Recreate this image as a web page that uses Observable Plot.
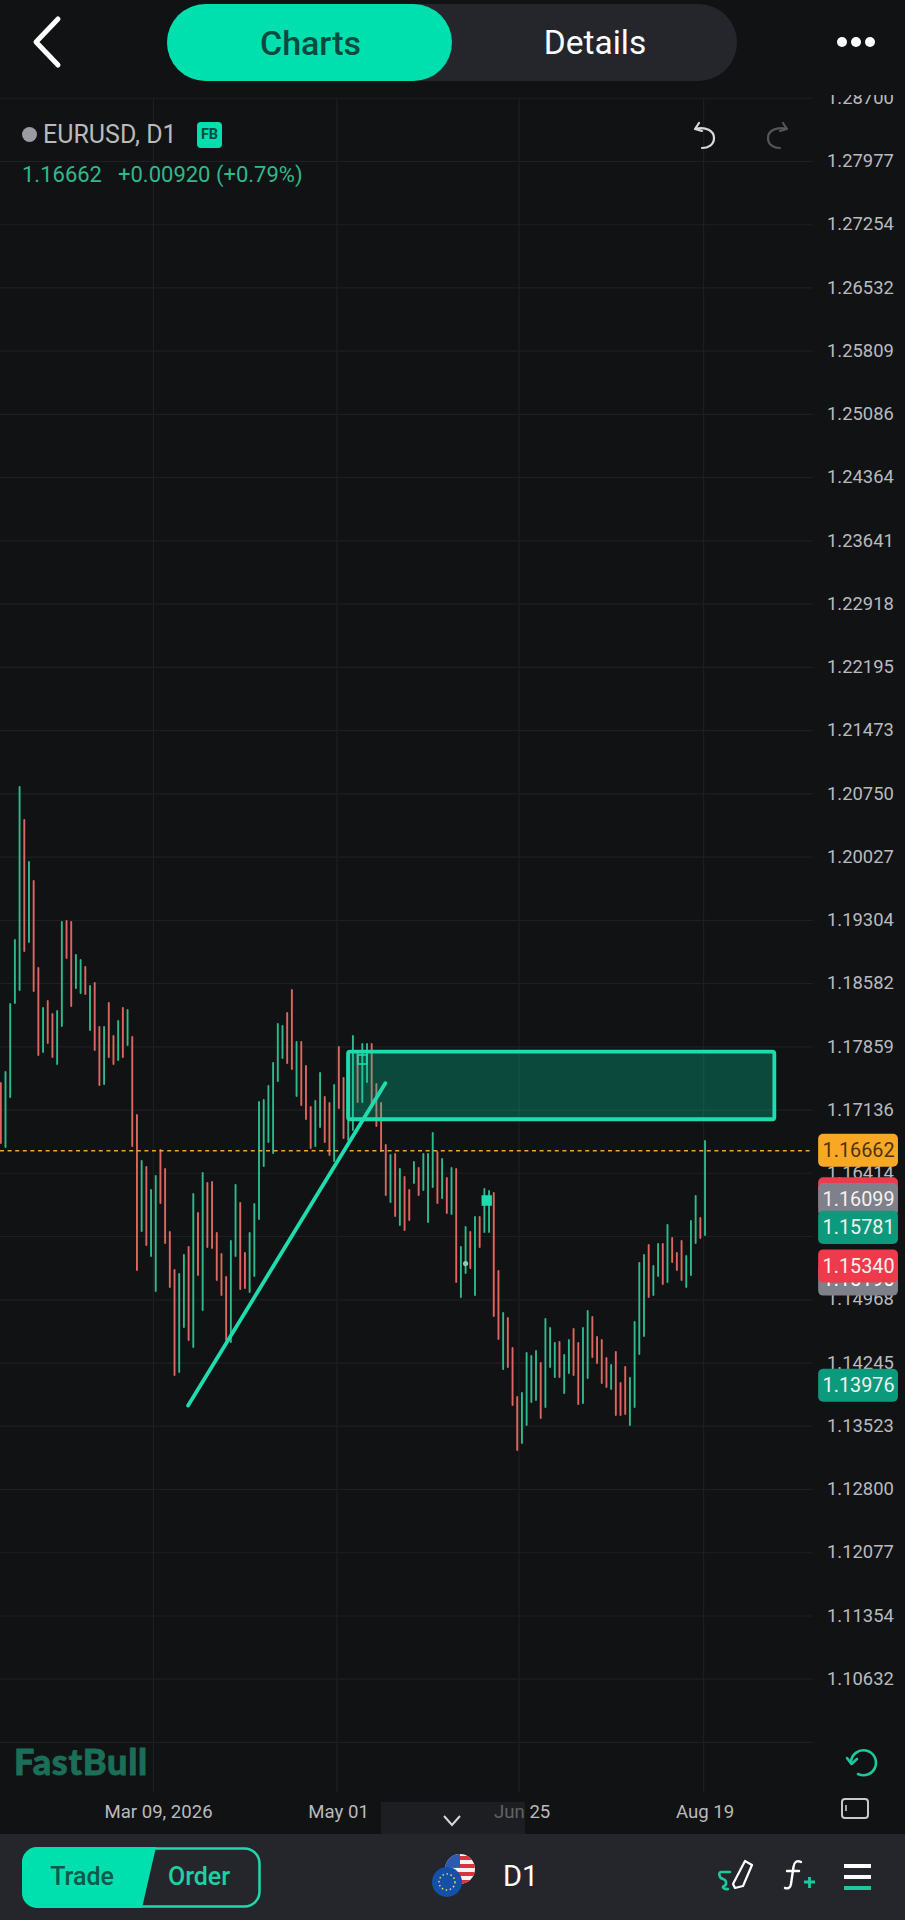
<!DOCTYPE html>
<html>
<head>
<meta charset="utf-8">
<script src="https://cdn.jsdelivr.net/npm/d3@7"></script>
<script src="https://cdn.jsdelivr.net/npm/@observablehq/plot@0.6"></script>
<style>
html,body{margin:0;padding:0;background:#111214;width:905px;height:1920px;overflow:hidden;font-family:Roboto,sans-serif}
#wrap{position:relative;width:905px;height:1920px;overflow:hidden}
#chart{position:absolute;left:0;top:0}
.a{position:absolute;white-space:nowrap;line-height:1}
.ic{position:absolute;overflow:visible}
</style>
</head>
<body>
<div id="wrap">
  <div id="chart"></div>

  <div class="a" style="left:0;top:0;width:905px;height:95px;background:#111214"></div>
  <div class="a" style="left:167px;top:4px;width:570px;height:77px;border-radius:39px;background:#25262c"></div>
  <div class="a" style="left:167px;top:4px;width:285px;height:77px;border-radius:39px;background:#00dfae"></div>
  <div class="a" style="left:168px;top:26px;width:285px;text-align:center;font-size:34px;font-weight:500;color:#0c4a40">Charts</div>
  <div class="a" style="left:453px;top:26px;width:284px;text-align:center;font-size:33.5px;color:#fff">Details</div>
  <svg class="ic" style="left:30px;top:14px" width="36" height="56"><path d="M28 5 L6 28 L28 51" fill="none" stroke="#fff" stroke-width="5" stroke-linecap="round" stroke-linejoin="round"/></svg>
  <svg class="ic" style="left:836px;top:36px" width="40" height="12"><circle cx="6" cy="6" r="5" fill="#fff"/><circle cx="20" cy="6" r="5" fill="#fff"/><circle cx="34" cy="6" r="5" fill="#fff"/></svg>

  <div class="a" style="left:22px;top:127px;width:15px;height:15px;border-radius:50%;background:#9a9ba3"></div>
  <div class="a" style="left:43px;top:122px;font-size:25px;color:#b9babd">EURUSD, D1</div>
  <div class="a" style="left:197px;top:122px;width:25px;height:26px;border-radius:4px;background:#00dfae;color:#0c4a40;font-size:14.5px;font-weight:700;text-align:center;line-height:26px">FB</div>
  <div class="a" style="left:22px;top:164px;font-size:22px;color:#2fb98c">1.16662</div>
  <div class="a" style="left:118px;top:164px;font-size:22px;color:#2fb98c">+0.00920 (+0.79%)</div>
  <svg class="ic" style="left:692px;top:120px" width="28" height="32"><path d="M7 3 L3 9 L10 11 M3 9 C14 6 22 11 22 18 C22 25 16 28 10 28" fill="none" stroke="#d8d9db" stroke-width="2.2" stroke-linecap="round" stroke-linejoin="round"/></svg>
  <svg class="ic" style="left:762px;top:120px" width="28" height="32"><path d="M21 3 L25 9 L18 11 M25 9 C14 6 6 11 6 18 C6 25 12 28 18 28" fill="none" stroke="#55565a" stroke-width="2.2" stroke-linecap="round" stroke-linejoin="round"/></svg>

  <div class="a" style="left:14px;top:1743px;font-family:Lato,sans-serif;font-size:36px;font-weight:900;color:#1b6e58;letter-spacing:.7px;-webkit-text-stroke:.8px #1b6e58">FastBull</div>
  <svg class="ic" style="left:845px;top:1745px" width="34" height="34"><path d="M6 17 A12.5 12.5 0 1 1 13 29" fill="none" stroke="#1fc79c" stroke-width="2.6" stroke-linecap="round"/><path d="M2 13 L6.5 19 L12 14" fill="none" stroke="#1fc79c" stroke-width="2.6" stroke-linecap="round" stroke-linejoin="round"/></svg>
  <svg class="ic" style="left:840px;top:1797px" width="30" height="24"><rect x="2" y="2" width="26" height="19" rx="3" fill="none" stroke="#c8c9cc" stroke-width="2"/><path d="M6 8 V14" stroke="#c8c9cc" stroke-width="1.6"/></svg>

  <div class="a" style="left:381px;top:1802px;width:144px;height:32px;background:rgba(37,38,44,.6)"></div>
  <svg class="ic" style="left:442px;top:1813px" width="20" height="14"><path d="M2 3 L10 12 L18 3" fill="none" stroke="#d8d9db" stroke-width="2"/></svg>

  <div class="a" style="left:0;top:1834px;width:905px;height:86px;background:#25262c"></div>
  <svg class="ic" style="left:22px;top:1847px" width="240" height="62">
    <rect x="1.5" y="1.5" width="236" height="58" rx="15" fill="none" stroke="#1fd9ab" stroke-width="2.5"/>
    <path d="M15 0 H134 L120 61 H15 A15 15 0 0 1 0 46 V15 A15 15 0 0 1 15 0 Z" fill="#00dfae"/>
  </svg>
  <div class="a" style="left:22px;top:1864px;width:120px;text-align:center;font-size:25px;font-weight:500;color:#0c5a4b">Trade</div>
  <div class="a" style="left:139px;top:1864px;width:120px;text-align:center;font-size:25px;font-weight:500;color:#1fd0a3">Order</div>
  <svg class="ic" style="left:430px;top:1852px" width="50" height="50">
    <defs><clipPath id="us"><circle cx="30" cy="17" r="15"/></clipPath></defs>
    <g clip-path="url(#us)"><rect x="15" y="2" width="30" height="30" fill="#f4f4f4"/><rect x="15" y="4" width="30" height="4" fill="#d8343f"/><rect x="15" y="12" width="30" height="4" fill="#d8343f"/><rect x="15" y="20" width="30" height="4" fill="#d8343f"/><rect x="15" y="28" width="30" height="4" fill="#d8343f"/><rect x="15" y="2" width="15" height="13" fill="#2b5bb0"/></g>
    <circle cx="17" cy="30" r="15" fill="#1450a8"/>
    <circle cx="17" cy="30" r="8" fill="none" stroke="#e6d85a" stroke-width="1.6" stroke-dasharray="1.5 2.6"/>
  </svg>
  <div class="a" style="left:503px;top:1862px;font-size:29px;color:#fff">D1</div>
  <svg class="ic" style="left:716px;top:1858px" width="40" height="36"><path d="M14 14 H5 C2 14 3 20 7 21 C11 22 11 27 8 28 C5 29 9 32 12 31" fill="none" stroke="#1fc79c" stroke-width="2.6" stroke-linecap="round"/><path d="M17 26 L29 3 L36 7 L27 28 L19 30 Z" fill="none" stroke="#fff" stroke-width="2.2" stroke-linejoin="round"/></svg>
  <svg class="ic" style="left:784px;top:1858px" width="34" height="36"><path d="M17 4 C13 2 10 4 9.5 9 L7 26 C6.5 30 4 31 1 30 M3 13 H15" fill="none" stroke="#fff" stroke-width="2.4" stroke-linecap="round"/><path d="M20 24 H31 M25.5 19 V30" stroke="#1fc79c" stroke-width="2.8"/></svg>
  <svg class="ic" style="left:844px;top:1864px" width="28" height="28"><path d="M0 2 H27 M0 13 H27" stroke="#fff" stroke-width="4"/><path d="M0 24 H27" stroke="#1fc79c" stroke-width="4"/></svg>
</div>

<script>
const highs = [1.17451,1.17577,1.18354,1.19086,1.20834,1.20457,1.19977,1.19760,1.18766,1.18309,
1.18389,1.18240,1.18274,1.19291,1.19303,1.19291,1.18914,1.18857,1.18777,1.18560,
1.18594,1.18091,1.18091,1.18366,1.17989,1.18160,1.18309,1.18286,1.17977,1.17086,
1.16560,1.16491,1.16229,1.16389,1.16686,1.16469,1.15749,1.15314,1.15269,1.15486,
1.15577,1.16183,1.15966,1.16423,1.16309,1.16320,1.15737,1.15497,1.15234,1.15646,
1.16286,1.16080,1.15509,1.15737,1.16069,1.17234,1.17257,1.17417,1.17680,1.18126,
1.18103,1.18251,1.18514,1.17920,1.17920,1.17646,1.17177,1.17246,1.17566,1.17291,
1.17223,1.17429,1.17863,1.17509,1.17806,1.17989,1.17806,1.17897,1.17897,1.17897,
1.17440,1.17223,1.16743,1.16629,1.16640,1.16469,1.16377,1.16229,1.16549,1.16480,
1.16640,1.16640,1.16880,1.16663,1.16583,1.16366,1.16480,1.16469,1.15577,1.15806,
1.15749,1.15920,1.15920,1.16240,1.16217,1.16194,1.15303,1.14823,1.14766,1.14423,
1.13863,1.13909,1.14366,1.14331,1.14389,1.14251,1.14754,1.14651,1.14480,1.14491,
1.14343,1.14514,1.14640,1.14480,1.14651,1.14846,1.14777,1.14549,1.14514,1.14309,
1.14229,1.14377,1.14023,1.14206,1.14080,1.14720,1.15394,1.15486,1.15600,1.15360,
1.15611,1.15611,1.15829,1.15680,1.15509,1.15646,1.15474,1.15874,1.16160,1.15909,1.16789];
const lows = [1.16766,1.16720,1.17291,1.18366,1.18514,1.18960,1.19063,1.18503,1.17771,1.17806,
1.17909,1.17749,1.17669,1.18103,1.18880,1.18331,1.18537,1.18480,1.18469,1.18057,
1.17829,1.17429,1.17440,1.17749,1.17669,1.17714,1.17749,1.17886,1.16731,1.15314,
1.15760,1.15600,1.15474,1.15074,1.16080,1.15623,1.15120,1.14114,1.14149,1.14663,
1.14514,1.14434,1.15257,1.14857,1.15577,1.15566,1.15200,1.15029,1.14514,1.14491,
1.15474,1.15097,1.15109,1.15063,1.15246,1.15897,1.16503,1.16777,1.16651,1.17474,
1.17737,1.17680,1.17611,1.17303,1.17200,1.17040,1.16709,1.16731,1.16949,1.16777,
1.16629,1.16560,1.17166,1.16823,1.16800,1.16914,1.17234,1.17234,1.17463,1.17177,
1.16960,1.16674,1.16171,1.16091,1.15931,1.15829,1.15771,1.15886,1.16309,1.16171,
1.16229,1.15863,1.16263,1.16080,1.16137,1.15966,1.15954,1.15177,1.15006,1.15280,
1.15337,1.15029,1.15577,1.15749,1.15749,1.14789,1.14526,1.14183,1.14206,1.13771,
1.13257,1.13337,1.13543,1.13806,1.13829,1.13623,1.13749,1.14206,1.14091,1.14091,
1.13909,1.14137,1.14114,1.13783,1.13794,1.14080,1.14320,1.14251,1.14023,1.13977,
1.13954,1.13657,1.13657,1.13669,1.13543,1.13749,1.14354,1.14560,1.15006,1.15029,
1.15246,1.15154,1.15177,1.15406,1.15314,1.15200,1.15120,1.15257,1.15623,1.15680,1.15714];
const directions = "DUUUUDUDDU"+"DDUUDDUUDU"+"DDUDDUDUDD"+"UDUUDDDDUU"+"DUDUDDDDDU"+"UDDUUUUUUU"+"UDDUDDDUUD"+"DUDDUUDUUD"+"DDDUDUDDUD"+"UUUDUDUDUU"+"DUDUUDDUDD"+"DUUUUDUUUD"+"UUDDUUDDDD"+"UDDDUUUUDU"+"UDUDDDUUUDU";

const labelledPrices = [1.28700,1.27977,1.27254,1.26532,1.25809,1.25086,1.24364,1.23641,1.22918,1.22195,1.21473,1.20750,1.20027,1.19304,1.18582,1.17859,1.17136,1.16414,1.15691,1.14968,1.14245,1.13523,1.12800,1.12077,1.11354,1.10632];
const gridPrices = [...labelledPrices,1.09909];
const gridBars = [32.5,71.6,110.4,149.7];
const dateLabels = ["Mar 09, 2026","May 01","Jun 25","Aug 19"];
const dateLabelBars = [33.6,71.95,111.05,150];

const lastPrice = 1.16662;
const trendBars = [39.9,81.9];
const trendPrices = [1.13771,1.17455];
const zoneBars = [74.07,164.87];
const zonePrices = [1.17037,1.17809];

const tagPrices = [1.16662,1.16165,1.15190,1.16099,1.15781,1.15340,1.13976];
const tagLabels = ["1.16662","","1.15190","1.16099","1.15781","1.15340","1.13976"];
const tagFills = ["#f9a825","#ef3a4c","#7f8089","#7f8089","#0b9a7c","#ef3a4c","#0b9a7c"];
const tagText = ["#4a3408","#ffffff","#ffffff","#f2f2f2","#f2f2f2","#f2f2f2","#f2f2f2"];

const UP = "#2fb98c", DOWN = "#dd6660", TEAL = "#1fdcae", GRID = "#1d1f22", AXIS = "#b9babd";

const bars = highs.map((h,i)=>({i,high:h,low:lows[i],up:directions[i]==="U"}));
const trend = trendBars.map((b,k)=>({b,p:trendPrices[k]}));
const tags = tagPrices.map((p,k)=>({p,label:tagLabels[k],fill:tagFills[k],ink:tagText[k]}));
const halfTag = 0.00189, tagX1 = 174.2, tagX2 = 191.2, tagMid = 182.7;
const fontFamily = "Roboto, sans-serif";

const plot = Plot.plot({
  width:905,height:1920,
  marginTop:0,marginRight:0,marginBottom:0,marginLeft:0,
  x:{type:"linear",domain:[-0.064,192.7]},
  y:{type:"linear",domain:[1.078855,1.298284]},
  style:{background:"#111214",fontFamily},
  marks:[
    Plot.ruleY(gridPrices,{x1:-0.064,x2:173.1,stroke:GRID,strokeWidth:1.2,dy:-1}),
    Plot.ruleX(gridBars,{y1:1.09349,y2:1.28700,stroke:GRID,strokeWidth:1.2}),
    Plot.ruleX(bars,{x:"i",y1:"low",y2:"high",stroke:d=>d.up?UP:DOWN,strokeWidth:1.9,strokeLinecap:"round"}),
    Plot.ruleY([lastPrice],{x1:-0.064,x2:172.5,stroke:"#f0a52c",strokeWidth:1.6,strokeDasharray:"4,3.6",dy:-1.8}),
    Plot.rect([0],{x1:()=>zoneBars[0],x2:()=>zoneBars[1],y1:()=>zonePrices[0],y2:()=>zonePrices[1],fill:"#00dfae",fillOpacity:0.27,stroke:TEAL,strokeWidth:3.8,rx:2}),
    Plot.line(trend,{x:"b",y:"p",stroke:TEAL,strokeWidth:3.8,strokeLinecap:"round"}),
    Plot.dot([0],{x:()=>77,y:()=>1.17726,symbol:"square",r:5,fill:"none",stroke:TEAL,strokeWidth:2,strokeOpacity:0.8}),
    Plot.dot([0],{x:()=>103.5,y:()=>1.16114,symbol:"square",r:5,fill:TEAL,stroke:TEAL}),
    Plot.dot([0],{x:()=>99,y:()=>1.15394,r:2.6,fill:"#86cfb7"}),
    Plot.axisY(labelledPrices,{anchor:"right",tickSize:0,tickPadding:-78.5,tickFormat:d=>d.toFixed(5),label:null,fontSize:18.4,fill:AXIS,fontFamily,dy:-1.2}),
    Plot.axisX(dateLabelBars,{anchor:"bottom",tickSize:0,tickPadding:-116,tickFormat:(d,i)=>dateLabels[i],label:null,fontSize:18.6,fill:AXIS,fontFamily}),
    ...tags.flatMap(t=>[
      Plot.rect([t],{x1:()=>tagX1,x2:()=>tagX2,y1:d=>d.p-halfTag,y2:d=>d.p+halfTag,fill:t.fill,rx:5,dy:-1.8}),
      Plot.text([t],{x:()=>tagMid,y:"p",text:"label",fill:t.ink,fontSize:19.8,fontFamily,textAnchor:"middle",dy:-1.8})
    ])
  ]
});
document.getElementById("chart").appendChild(plot);
</script>
</body>
</html>
